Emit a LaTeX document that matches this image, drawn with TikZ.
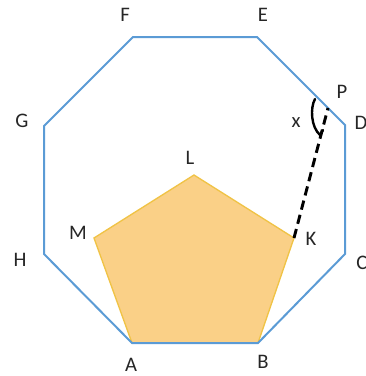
\documentclass[tikz,border=0pt]{standalone}
\usepackage{fontspec}
\setmainfont{Carlito}
\begin{document}
\begin{tikzpicture}[x=0.75pt,y=-0.75pt,
  oct/.style={draw=octblue,line width=1.5pt,line join=miter},
  pent/.style={draw=pentedge,line width=1pt,fill=pentfill},
  lbl/.style={font=\fontsize{15.5}{17}\selectfont,text=black!85,inner sep=0pt},
  seg/.style={draw=black,line width=2.2pt,dash pattern=on 7pt off 4pt},
  angmark/.style={draw=black,line width=1.8pt,line cap=round}]
\definecolor{octblue}{RGB}{91,155,213}
\definecolor{pentfill}{RGB}{250,208,135}
\definecolor{pentedge}{RGB}{240,195,70}
\useasboundingbox (0,0) rectangle (366,376);
% octagon vertices
\coordinate (A) at (132,343);
\coordinate (B) at (258,343);
\coordinate (C) at (345,254);
\coordinate (D) at (345,125);
\coordinate (E) at (257,37);
\coordinate (F) at (133,37);
\coordinate (G) at (44,126);
\coordinate (H) at (44,254);
% pentagon vertices
\coordinate (K) at (294,238);
\coordinate (L) at (194,175);
\coordinate (M) at (94,238);
\coordinate (P) at (328,108);
\path[pent] (A) -- (B) -- (K) -- (L) -- (M) -- cycle;
\draw[oct] (A) -- (B) -- (C) -- (D) -- (E) -- (F) -- (G) -- (H) -- cycle;
\draw[seg] (K) -- (P);
\coordinate (a1) at (315,99);
\coordinate (a2) at (320,135);
\draw[angmark] (a1) .. controls (310,108) and (311,127) .. (a2) -- (323,130);
% labels
\node[lbl] (lA) at (131,365) {A};
\node[lbl] (lB) at (263,362) {B};
\node[lbl] (lC) at (362,263) {C};
\node[lbl] (lD) at (361,123) {D};
\node[lbl] (lE) at (263,15) {E};
\node[lbl] (lF) at (125,15) {F};
\node[lbl] (lG) at (22,121) {G};
\node[lbl] (lH) at (20,260) {H};
\node[lbl] (lK) at (311,239) {K};
\node[lbl] (lL) at (190,158) {L};
\node[lbl] (lM) at (78,233) {M};
\node[lbl] (lP) at (342,92) {P};
\node[lbl] (lx) at (296,123) {x};
\end{tikzpicture}
\end{document}
